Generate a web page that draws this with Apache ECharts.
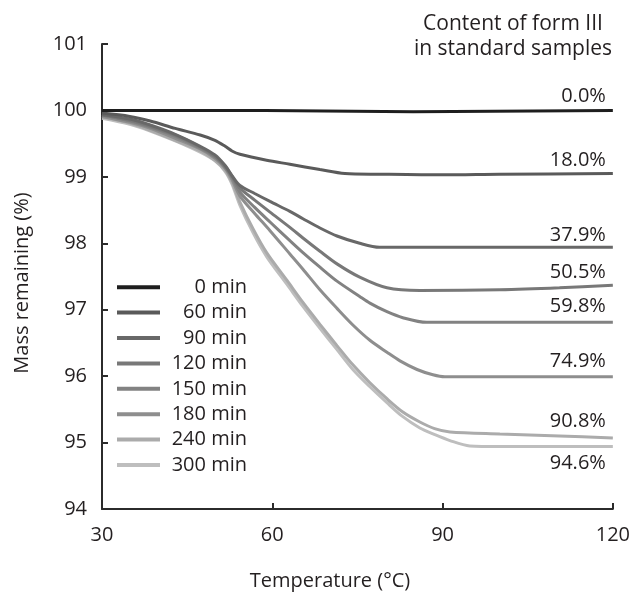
<!DOCTYPE html>
<html>
<head>
<meta charset="utf-8">
<script src="https://cdn.jsdelivr.net/npm/echarts@6/dist/echarts.min.js"></script>
<style>
  html, body { margin: 0; padding: 0; background: #ffffff; }
  #chart { width: 633px; height: 593px; }
</style>
</head>
<body>
<div id="chart"></div>
<script>
// Thermogravimetric curves: mass remaining vs temperature for each grinding time
const seriesNames = ['0 min', '60 min', '90 min', '120 min', '150 min', '180 min', '240 min', '300 min'];
const contentLabels = ['0.0%', '18.0%', '37.9%', '50.5%', '59.8%', '74.9%', '90.8%', '94.6%'];
const xTicks = [30, 60, 90, 120];
const yTicks = [94, 95, 96, 97, 98, 99, 100, 101];

// [temperature °C, mass remaining %]
const curve0 = [[30, 100.0], [58.7, 100.0], [58.9, 99.98], [84.8, 99.98], [85.0, 100.0], [120, 100.0]];
const curve60 = [[30, 99.96], [34.9, 99.91], [38.5, 99.84], [42.9, 99.73], [47.3, 99.63], [49.9, 99.55],
  [51.7, 99.46], [52.9, 99.39], [54.3, 99.34], [59.0, 99.25], [63.1, 99.19], [68.4, 99.11], [72.8, 99.05],
  [78.9, 99.04], [90, 99.03], [100, 99.04], [120, 99.05]];
const curve90 = [[30, 99.94], [34.9, 99.87], [38.5, 99.78], [42.9, 99.64], [47.3, 99.46], [49.9, 99.33],
  [51.7, 99.17], [52.9, 99.02], [54.3, 98.87], [56.9, 98.75], [59.6, 98.63], [63.1, 98.48], [65.4, 98.37],
  [68.4, 98.23], [71.4, 98.11], [75.4, 98.00], [78.9, 97.94], [120, 97.94]];
const curve120 = [[30, 99.93], [34.9, 99.85], [38.5, 99.76], [42.9, 99.63], [47.3, 99.45], [49.9, 99.31],
  [51.7, 99.16], [52.9, 99.01], [54.3, 98.83], [56.9, 98.65], [59.6, 98.47], [63.1, 98.24], [65.4, 98.08],
  [68.4, 97.88], [71.4, 97.69], [75.4, 97.49], [80.2, 97.33], [86.0, 97.29], [100.1, 97.30], [110.6, 97.33],
  [120, 97.37]];
const curve150 = [[30, 99.93], [34.9, 99.84], [38.5, 99.75], [42.9, 99.61], [47.3, 99.43], [49.9, 99.30],
  [51.7, 99.14], [52.9, 98.99], [54.3, 98.77], [56.9, 98.54], [59.6, 98.32], [63.1, 98.04], [65.4, 97.86],
  [68.4, 97.64], [71.4, 97.43], [75.4, 97.20], [77.2, 97.10], [80.2, 96.97], [83.0, 96.88], [87.2, 96.81],
  [120, 96.81]];
const curve180 = [[30, 99.91], [34.9, 99.82], [38.5, 99.73], [42.9, 99.58], [47.3, 99.42], [49.9, 99.28],
  [51.7, 99.13], [52.9, 98.96], [54.3, 98.71], [56.9, 98.45], [59.6, 98.19], [63.1, 97.84], [65.4, 97.61],
  [68.4, 97.30], [71.4, 97.02], [74.2, 96.77], [77.2, 96.54], [80.2, 96.36], [82.5, 96.23], [85.5, 96.10],
  [88.3, 96.02], [90.4, 95.99], [120, 95.99]];
const curve240 = [[30, 99.90], [34.9, 99.81], [38.5, 99.70], [42.9, 99.55], [47.3, 99.39], [49.9, 99.25],
  [51.7, 99.10], [52.9, 98.92], [54.3, 98.62], [56.6, 98.22], [59.0, 97.86], [62.6, 97.44], [65.4, 97.11],
  [68.4, 96.78], [71.4, 96.46], [74.2, 96.17], [77.2, 95.90], [80.2, 95.66], [83.0, 95.46], [86.0, 95.31],
  [88.6, 95.21], [91.3, 95.16], [100.1, 95.13], [110.6, 95.10], [120, 95.07]];
const curve300 = [[30, 99.88], [34.9, 99.79], [38.5, 99.69], [42.9, 99.54], [47.3, 99.37], [49.9, 99.24],
  [51.7, 99.08], [52.9, 98.89], [54.3, 98.57], [56.6, 98.16], [59.0, 97.80], [62.6, 97.38], [65.4, 97.05],
  [68.4, 96.72], [71.4, 96.40], [74.2, 96.10], [77.2, 95.84], [80.2, 95.60], [83.0, 95.39], [86.0, 95.22],
  [88.6, 95.12], [91.3, 95.03], [94.8, 94.95], [100.1, 94.94], [120, 94.94]];

const curves = [curve0, curve60, curve90, curve120, curve150, curve180, curve240, curve300];

// styling
const lineColors = ['#1e1e1e', '#5a5a5a', '#686868', '#787878', '#828282', '#8e8e8e', '#ababab', '#bebebe'];
const labelShiftY = [-4, -3, -2, -3, -6, -6, -7, 7];
const FONT = '"Open Sans", "Noto Sans", sans-serif';
const TEXT = '#231f20';

const series = curves.map((pts, si) => ({
  name: seriesNames[si],
  type: 'line',
  symbol: 'circle',
  symbolSize: 0,
  showSymbol: true,
  silent: true,
  animation: false,
  smooth: si === 0 ? false : 0.3,
  z: 10 - si,
  lineStyle: { color: lineColors[si], width: 3 },
  itemStyle: { color: lineColors[si] },
  data: pts.map((p, i) => {
    if (i !== pts.length - 1) return p;
    const below = labelShiftY[si] > 0;
    return {
      value: p,
      label: {
        show: true,
        formatter: contentLabels[si],
        position: [-7, labelShiftY[si]],
        align: 'right',
        verticalAlign: below ? 'top' : 'bottom',
        fontFamily: FONT,
        fontSize: 20,
        lineHeight: 20,
        color: TEXT
      }
    };
  })
}));

const chart = echarts.init(document.getElementById('chart'), null, { renderer: 'canvas' });
chart.setOption({
  backgroundColor: '#ffffff',
  animation: false,
  grid: { left: 102, right: 20, top: 44, bottom: 84, containLabel: false },
  xAxis: {
    type: 'value',
    min: xTicks[0],
    max: xTicks[xTicks.length - 1],
    interval: xTicks[1] - xTicks[0],
    axisLine: { show: true, onZero: false, lineStyle: { color: '#2b2b2b', width: 2 } },
    axisTick: { show: true, inside: true, length: 6, lineStyle: { color: '#2b2b2b', width: 2 } },
    splitLine: { show: false },
    axisLabel: { margin: 16, fontFamily: FONT, fontSize: 20, color: TEXT }
  },
  yAxis: {
    type: 'value',
    min: yTicks[0],
    max: yTicks[yTicks.length - 1],
    interval: yTicks[1] - yTicks[0],
    axisLine: { show: true, onZero: false, lineStyle: { color: '#2b2b2b', width: 2 } },
    axisTick: { show: true, inside: true, length: 6, lineStyle: { color: '#2b2b2b', width: 2 } },
    splitLine: { show: false },
    axisLabel: { margin: 15, fontFamily: FONT, fontSize: 20, color: TEXT }
  },
  legend: {
    orient: 'vertical',
    left: 117,
    top: 277,
    padding: 0,
    icon: 'rect',
    itemWidth: 43,
    itemHeight: 4,
    itemGap: 5,
    selectedMode: false,
    data: seriesNames,
    formatter: name => '{n|' + name + '}',
    textStyle: {
      fontFamily: FONT,
      fontSize: 20,
      color: TEXT,
      lineHeight: 20.4,
      rich: { n: { width: 82, align: 'right', fontFamily: FONT, fontSize: 20, color: TEXT } }
    }
  },
  graphic: [
    {
      type: 'text', x: 513, y: 24,
      style: { text: 'Content of form III', font: '21px ' + FONT, fill: TEXT, textAlign: 'center', textVerticalAlign: 'middle' }
    },
    {
      type: 'text', x: 513, y: 49,
      style: { text: 'in standard samples', font: '21px ' + FONT, fill: TEXT, textAlign: 'center', textVerticalAlign: 'middle' }
    },
    {
      type: 'text', x: 330, y: 581,
      style: { text: 'Temperature (°C)', font: '20px ' + FONT, fill: TEXT, textAlign: 'center', textVerticalAlign: 'middle' }
    },
    {
      type: 'text', x: 22, y: 283, rotation: Math.PI / 2,
      style: { text: 'Mass remaining (%)', font: '20px ' + FONT, fill: TEXT, textAlign: 'center', textVerticalAlign: 'middle' }
    }
  ],
  series: series
});
</script>
</body>
</html>
